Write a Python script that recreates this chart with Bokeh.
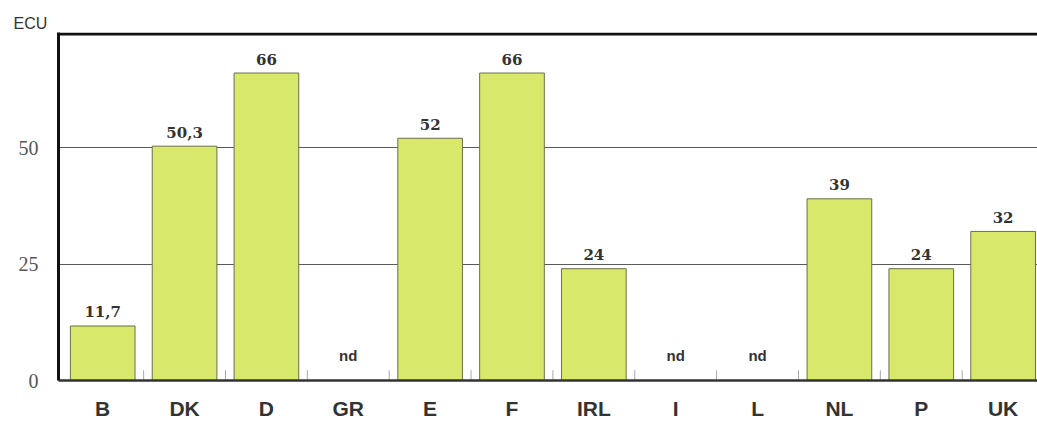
from bokeh.plotting import figure
from bokeh.models import FixedTicker, Span, Range1d
from bokeh.core.properties import value
from bokeh.embed import file_html
from bokeh.resources import INLINE

# ---- data ----
countries = ["B", "DK", "D", "GR", "E", "F", "IRL", "I", "L", "NL", "P", "UK"]
amounts = [11.7, 50.3, 66, None, 52, 66, 24, None, None, 39, 24, 32]
y_ticks = [0, 25, 50]
unit_label = "ECU"
missing_label = "nd"

idx = list(range(len(countries)))
bar_x = [i for i, v in zip(idx, amounts) if v is not None]
bar_top = [v for v in amounts if v is not None]
bar_text = [f"{v:g}".replace(".", ",") for v in bar_top]
nd_x = [i for i, v in zip(idx, amounts) if v is None]
sep_x = [i + 0.5 for i in idx[:-1]]

X_START, X_END = -0.54, 11.42
Y_END = 74.7

p = figure(width=1037, height=426, title=unit_label,
           x_range=Range1d(X_START, X_END), y_range=Range1d(0, Y_END),
           output_backend="svg", toolbar_location=None,
           min_border_left=58, min_border_right=0,
           min_border_top=32, min_border_bottom=46)
p.outline_line_color = None
p.background_fill_color = "white"
p.border_fill_color = "white"

# unit label as title
p.title.align = "left"
p.title.offset = -45
p.title.standoff = 2
p.title.text_font = "Liberation Sans"
p.title.text_font_style = "normal"
p.title.text_font_size = "16px"
p.title.text_color = "#333333"

# grid
p.xgrid.visible = False
p.ygrid.ticker = FixedTicker(ticks=[t for t in y_ticks if t > 0])
p.ygrid.grid_line_color = "#5a5a5a"
p.ygrid.grid_line_width = 1

# bars
p.vbar(x=bar_x, top=bar_top, bottom=0, width=0.79,
       fill_color="#d7e86b", line_color="#6e6e4c", line_width=1)

# separators between categories
p.segment(x0=sep_x, y0=[0] * len(sep_x), x1=sep_x, y1=[2.2] * len(sep_x),
          line_color="#a8a8a8", line_width=1)

# value labels
p.text(x=bar_x, y=bar_top, text=bar_text, text_align="center",
       text_baseline="alphabetic", y_offset=-14,
       text_font=value("DejaVu Serif"), text_font_style="bold",
       text_font_size="15px", text_color="#333333")

# nd labels
p.text(x=nd_x, y=[0] * len(nd_x), text=[missing_label] * len(nd_x),
       text_align="center", text_baseline="alphabetic", y_offset=-25,
       text_font=value("Liberation Sans"), text_font_style="bold",
       text_font_size="15px", text_color="#333333")

# top line
p.add_layout(Span(location=Y_END - 0.3, dimension="width",
                  line_color="#111111", line_width=3))

# y axis
p.yaxis.ticker = FixedTicker(ticks=y_ticks)
p.yaxis.major_tick_line_color = None
p.yaxis.minor_tick_line_color = None
p.yaxis.axis_line_color = "#111111"
p.yaxis.axis_line_width = 3
p.yaxis.major_label_text_font = "Liberation Serif"
p.yaxis.major_label_text_font_size = "20px"
p.yaxis.major_label_text_color = "#555555"
p.yaxis.major_label_standoff = 14

# x axis
p.xaxis.ticker = FixedTicker(ticks=idx)
p.xaxis.major_label_overrides = {i: c for i, c in zip(idx, countries)}
p.xaxis.major_tick_line_color = None
p.xaxis.minor_tick_line_color = None
p.xaxis.axis_line_color = "#333333"
p.xaxis.axis_line_width = 2.5
p.xaxis.major_label_text_font = "Liberation Sans"
p.xaxis.major_label_text_font_style = "bold"
p.xaxis.major_label_text_font_size = "21px"
p.xaxis.major_label_text_color = "#333333"
p.xaxis.major_label_standoff = 10

open("out.html", "w").write(file_html(p, INLINE))
